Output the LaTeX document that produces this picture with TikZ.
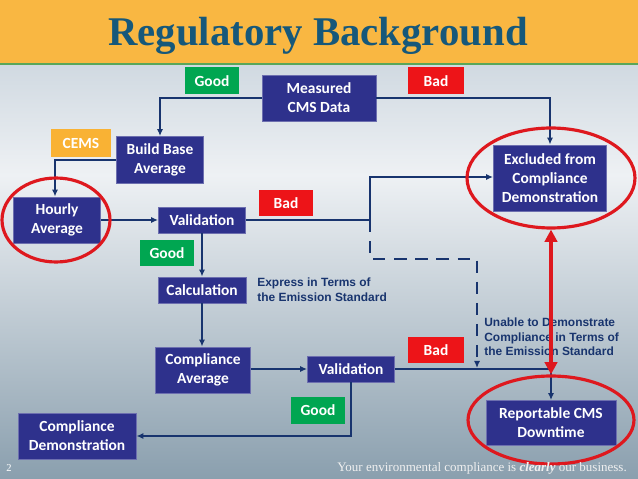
\documentclass[tikz,border=0pt]{standalone}
\usepackage{fontspec}
\setmainfont{Liberation Serif}
\newfontfamily\boxfont{Carlito}
\newfontfamily\notefont{Liberation Sans}
\usepackage{tikz}
\usetikzlibrary{arrows.meta,calc,positioning,shapes.geometric}

\definecolor{navybox}{RGB}{46,49,140}
\definecolor{navyline}{RGB}{24,52,110}
\definecolor{goodgreen}{RGB}{0,166,81}
\definecolor{badred}{RGB}{237,20,24}
\definecolor{cemsorange}{RGB}{249,178,52}
\definecolor{titleband}{RGB}{249,183,66}
\definecolor{titleblue}{RGB}{22,88,122}
\definecolor{ringred}{RGB}{222,24,30}
\definecolor{bgtop}{RGB}{208,217,225}
\definecolor{bgmid}{RGB}{238,241,244}
\definecolor{bgbot}{RGB}{138,159,174}

\tikzset{
  procbox/.style={fill=navybox, draw=navybox!70!white, line width=0.5pt, text=white,
    font=\boxfont\bfseries\fontsize{8.8}{10.8}\selectfont, align=center, inner sep=1pt},
  tagbox/.style={text=white, font=\boxfont\bfseries\fontsize{8.8}{10.8}\selectfont,
    minimum width=1.09cm, minimum height=0.54cm, inner sep=0pt},
  flow/.style={draw=navyline, line width=1pt, -{Latex[length=4pt,width=3.5pt]}},
  link/.style={draw=navyline, line width=1pt},
  ring/.style={ellipse, draw=ringred, line width=1.8pt},
  note/.style={text=navyline, font=\notefont\bfseries\fontsize{6.8}{8.3}\selectfont, align=left, inner sep=0pt}
}

\begin{document}
\begin{tikzpicture}[x=0.02cm, y=-0.02cm]
  \useasboundingbox (0,0) rectangle (638,479);
  % background and title band
  \shade[top color=bgtop, bottom color=bgmid] (0,64) rectangle (638,175);
  \shade[top color=bgmid, bottom color=bgbot] (0,175) rectangle (638,479);
  \fill[titleband] (0,0) rectangle (638,64);
  \draw[gray!70!green, line width=1pt] (0,64) -- (638,64);
  \node[text=titleblue, font=\bfseries\fontsize{23.2}{26}\selectfont] (title) at (318,36) {Regulatory Background};

  % process boxes
  \node[procbox, minimum width=2.28cm, minimum height=0.92cm] (meas) at (319,98) {Measured\\CMS Data};
  \node[procbox, minimum width=1.74cm, minimum height=0.94cm] (build) at (160,160) {Build Base\\Average};
  \node[procbox, minimum width=1.74cm, minimum height=0.92cm] (hourly) at (57,220) {Hourly\\Average};
  \node[procbox, minimum width=1.74cm, minimum height=0.52cm] (valA) at (202,220) {Validation};
  \node[procbox, minimum width=1.76cm, minimum height=0.52cm] (calc) at (202,290) {Calculation};
  \node[procbox, minimum width=1.90cm, minimum height=0.92cm] (compavg) at (203,370) {Compliance\\Average};
  \node[procbox, minimum width=1.74cm, minimum height=0.52cm] (valB) at (351,369) {Validation};
  \node[procbox, minimum width=2.36cm, minimum height=0.92cm] (compdemo) at (77,436) {Compliance\\Demonstration};
  \node[procbox, minimum width=2.26cm, minimum height=1.32cm] (excl) at (550,178) {Excluded from\\Compliance\\Demonstration};
  \node[procbox, minimum width=2.60cm, minimum height=0.90cm] (report) at (551,423) {Reportable CMS\\Downtime};

  % good / bad tags
  \node[tagbox, fill=goodgreen] (goodA) at (212,81) {Good};
  \node[tagbox, fill=badred, minimum width=1.12cm] (badA) at (436,81) {Bad};
  \node[tagbox, fill=cemsorange, minimum width=1.2cm, minimum height=0.56cm] (cems) at (81,143) {CEMS};
  \node[tagbox, fill=badred] (badB) at (286,203) {Bad};
  \node[tagbox, fill=goodgreen] (goodB) at (167,253) {Good};
  \node[tagbox, fill=badred, minimum width=1.12cm] (badC) at (436,350) {Bad};
  \node[tagbox, fill=goodgreen] (goodC) at (318,410) {Good};

  % notes
  \node[note, anchor=west] (noteA) at (257,290) {Express in Terms of\\the Emission Standard};
  \node[note, anchor=west] (noteB) at (484,337) {Unable to Demonstrate\\Compliance in Terms of\\the Emission Standard};

  % connectors
  \draw[flow] (meas.west) -| (build.north);
  \draw[flow] (meas.east) -| (excl.north);
  \draw[flow] (build.west) -| ([xshift=-0.04cm]hourly.north);
  \draw[flow] (hourly) -- (valA);
  \coordinate (split) at (370,220);
  \coordinate (dashend) at (477,368);
  \draw[link] (valA.east) -- (split);
  \draw[flow] (split) |- ([yshift=0.02cm]excl.west);
  \draw[link, dashed, dash pattern=on 7pt off 5pt, -{Latex[length=4pt,width=3.5pt]}] (split) -- (370,259) -| (dashend);
  \draw[flow] (valA.south) -- (calc.north);
  \draw[flow] (calc.south) -- (calc.south |- compavg.north);
  \draw[flow] (compavg.east |- valB.west) -- (valB.west);
  \draw[flow] (valB.east) -| (report.north);
  \draw[flow] (valB.south) |- (compdemo.east);

  % red rings
  \node[ring, minimum width=2.16cm, minimum height=1.68cm] (ringA) at (56,220) {};
  \node[ring, minimum width=3.36cm, minimum height=2.00cm] (ringB) at (551,178) {};
  \node[ring, minimum width=3.32cm, minimum height=1.76cm] (ringC) at (551,420) {};
  \draw[draw=ringred, line width=2.2pt, {Triangle[length=7pt,width=7pt]}-{Triangle[length=7pt,width=7pt]}] (ringB.south) -- (ringC.north);

  % footer
  \node[text=white, font=\fontsize{6}{7}\selectfont] (pagenum) at (9,468) {2};
  \node[text=white!94!black, anchor=east, font=\fontsize{7.4}{8}\selectfont] (footer) at (633,468)
    {Your environmental compliance is \textbf{\textit{clearly}} our business.};
\end{tikzpicture}
\end{document}
